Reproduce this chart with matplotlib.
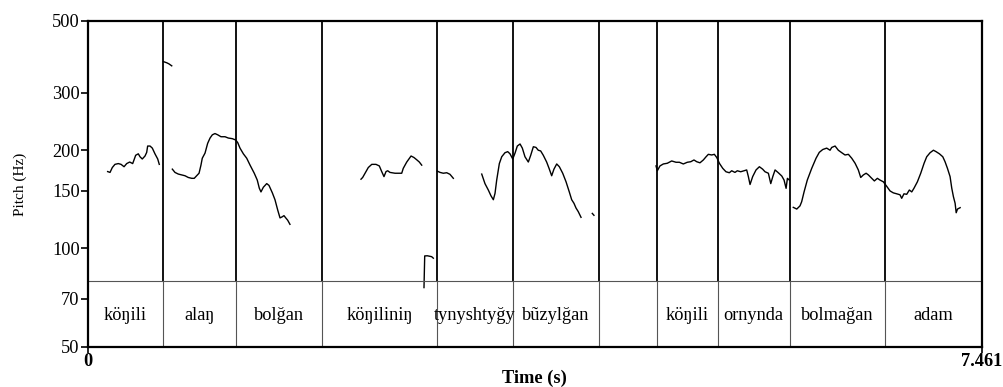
import matplotlib
matplotlib.use("Agg")
import matplotlib.pyplot as plt
from matplotlib.ticker import NullLocator
from matplotlib.transforms import blended_transform_factory

plt.rcParams['font.family'] = ['Liberation Serif', 'DejaVu Serif']

# ---------------- data ----------------
t_max = 7.461
y_ticks = [50, 70, 100, 150, 200, 300, 500]
y_tick_labels = ["50", "70", "100", "150", "200", "300", "500"]

boundaries = [0.624, 1.236, 1.954, 2.916, 3.548, 4.266, 4.748, 5.257, 5.858, 6.651]
words = ["köŋili", "alaŋ", "bolğan", "köŋiliniŋ", "tynyshtyğy", "bũzylğan", "",
         "köŋili", "ornynda", "bolmağan", "adam"]

seg1_t = [0.164, 0.184, 0.203, 0.225, 0.253, 0.276, 0.301, 0.323, 0.348, 0.373, 0.387, 0.398,
          0.420, 0.434, 0.453, 0.476, 0.490, 0.498, 0.518, 0.537, 0.559, 0.582, 0.595]
seg1_f = [172, 171, 177, 181, 182, 181, 178, 182, 184, 182, 188, 193,
          195, 191, 188, 192, 197, 206, 206, 203, 195, 188, 181]

seg2_t = [0.629, 0.657, 0.676, 0.699]
seg2_f = [374, 371, 368, 363]

seg3_t = [0.704, 0.726, 0.754, 0.782, 0.810, 0.837, 0.866, 0.887, 0.907, 0.927, 0.943, 0.954,
          0.977, 0.999, 1.019, 1.038, 1.060, 1.083, 1.110, 1.144, 1.171, 1.205, 1.233,
          1.250, 1.269, 1.297, 1.325, 1.353, 1.388, 1.413, 1.430, 1.444, 1.464, 1.492, 1.511,
          1.539, 1.561, 1.584, 1.603, 1.622, 1.636, 1.651, 1.667, 1.686]
seg3_f = [175, 171, 169, 168, 167, 165, 164, 164, 167, 170, 180, 189,
          196, 210, 218, 223, 225, 223, 220, 220, 218, 217, 215,
          211, 203, 195, 189, 180, 170, 162, 153, 149, 154, 158, 156,
          148, 141, 131, 124, 125, 126, 124, 122, 118.5]

seg4_t = [2.279, 2.293, 2.313, 2.340, 2.369, 2.404, 2.432, 2.452, 2.471, 2.488, 2.502, 2.521,
          2.563, 2.619, 2.632, 2.661, 2.697, 2.721, 2.744, 2.766, 2.786]
seg4_f = [163, 165, 170, 177, 181, 181, 179, 172, 166, 172, 173, 171,
          170, 170, 176, 184, 192, 190, 187, 184, 180]

seg5_t = [2.805, 2.811, 2.833, 2.869, 2.883]
seg5_f = [75.8, 94.8, 94.9, 94.3, 93.3]

seg6_t = [2.916, 2.939, 2.966, 2.995, 3.022, 3.050]
seg6_f = [172.6, 171, 170, 170.6, 168.7, 164]

seg7_t = [3.287, 3.314, 3.342, 3.364, 3.384, 3.398, 3.412, 3.434, 3.454, 3.481, 3.504, 3.523,
          3.546, 3.565, 3.584, 3.607, 3.626, 3.648, 3.676, 3.696, 3.718, 3.740, 3.759, 3.779,
          3.801, 3.829, 3.849, 3.871, 3.890, 3.913, 3.935, 3.963, 3.991, 4.018, 4.038, 4.057,
          4.074, 4.093, 4.116]
seg7_f = [169, 158, 151, 145, 141, 147.5, 162, 182, 191, 196.5, 198, 195,
          188, 196, 206, 209, 203, 191, 184, 193, 205, 204, 200, 199,
          193, 184, 176, 167, 175, 181.5, 178, 170, 160, 149, 141, 137.5,
          133, 129.6, 124.5]

seg8_t = [4.210, 4.224]
seg8_f = [128, 126.3]

seg9_t = [4.742, 4.753, 4.775, 4.803, 4.836, 4.873, 4.909, 4.937, 4.970, 5.003, 5.032, 5.059,
          5.082, 5.109, 5.137, 5.160, 5.179, 5.207, 5.229, 5.249, 5.271, 5.299, 5.326, 5.354,
          5.374, 5.401, 5.421, 5.449, 5.477, 5.499, 5.513, 5.527, 5.549, 5.577, 5.605, 5.632,
          5.652, 5.680, 5.700, 5.717, 5.736, 5.763, 5.792, 5.811, 5.828, 5.839, 5.855]
seg9_f = [179, 173, 179, 181.5, 182.4, 185.4, 183.7, 183.7, 181.5, 183.7, 184.4, 186.7,
          184.4, 183, 186.7, 191, 194.3, 193.4, 194.3, 190, 182.4, 176, 171.8, 170.6,
          173, 171, 173, 171.8, 173, 174, 166, 157, 166, 174, 178, 175,
          171.8, 170, 158, 166, 174, 170.6, 166.7, 162, 152.8, 164, 162]

seg10_t = [5.888, 5.917, 5.944, 5.958, 5.978, 6.005, 6.042, 6.078, 6.105, 6.134, 6.167, 6.195,
           6.209, 6.237, 6.264, 6.293, 6.320, 6.348, 6.376, 6.404, 6.431, 6.451, 6.473, 6.496,
           6.515, 6.543, 6.565, 6.590, 6.612, 6.640, 6.668, 6.696, 6.723, 6.752, 6.779, 6.793,
           6.812, 6.835, 6.857, 6.877, 6.896, 6.924, 6.952, 6.980, 7.002, 7.030, 7.058, 7.080,
           7.108, 7.136, 7.155, 7.175, 7.197, 7.211, 7.225, 7.239, 7.248, 7.259, 7.281]
seg10_f = [133.6, 132, 135, 139, 149, 162, 176, 189, 197, 201, 203, 200,
           204, 206, 200, 196.5, 193.4, 194.3, 189, 182.4, 174, 165, 168, 170,
           168, 164, 161, 164, 162, 160, 155, 150, 148, 147, 146, 142.4,
           147, 146.5, 151, 149, 153, 160, 170, 182.4, 191, 196.5, 200, 198,
           195, 191, 184.4, 176, 166, 153, 144, 137.5, 128.6, 132, 133.3]

segments_t = [seg1_t, seg2_t, seg3_t, seg4_t, seg5_t, seg6_t, seg7_t, seg8_t, seg9_t, seg10_t]
segments_f = [seg1_f, seg2_f, seg3_f, seg4_f, seg5_f, seg6_f, seg7_f, seg8_f, seg9_f, seg10_f]

# ---------------- figure ----------------
W, H = 1004, 387
fig = plt.figure(figsize=(W / 100, H / 100), dpi=100)
ax_left, ax_right, ax_top, ax_bot = 88, 981.7, 20.5, 346.5
ax = fig.add_axes([ax_left / W, 1 - ax_bot / H, (ax_right - ax_left) / W, (ax_bot - ax_top) / H])
ax.set_yscale('log')
ax.set_xlim(0, t_max)
ax.set_ylim(50, 500)

tier_frac = 0.2
blend = blended_transform_factory(ax.transData, ax.transAxes)

# contour
for tt, ff in zip(segments_t, segments_f):
    ax.plot(tt, ff, color='black', lw=1.0, solid_joinstyle='round')

# boundaries
for b in boundaries:
    ax.plot([b, b], [tier_frac, 1], transform=blend, color='black', lw=1.3)
    ax.plot([b, b], [0, tier_frac], transform=blend, color='#555555', lw=0.8)
ax.plot([0, 1], [tier_frac, tier_frac], transform=ax.transAxes, color='#555555', lw=0.8)

# word labels
edges = [0] + boundaries + [t_max]
for i, w in enumerate(words):
    mid = (edges[i] + edges[i + 1]) / 2
    ax.text(mid, tier_frac / 2 - 0.005, w, transform=blend, ha='center', va='center', fontsize=13.2)

# axes styling
for s in ax.spines.values():
    s.set_linewidth(1.6)
ax.set_yticks(y_ticks)
ax.set_yticklabels(y_tick_labels)
ax.yaxis.set_minor_locator(NullLocator())
ax.tick_params(axis='y', direction='out', length=5, width=1.2, labelsize=13.2, pad=1)
ax.set_xticks([0, t_max])
ax.set_xticklabels(["0", "7.461"], fontweight='bold')
ax.xaxis.set_minor_locator(NullLocator())
ax.tick_params(axis='x', direction='out', length=4, width=1.2, labelsize=13.2, pad=1)

fig.text(20 / W, 1 - 184 / H, "Pitch (Hz)", rotation=90, ha='center', va='center', fontsize=11)
fig.text((ax_left + ax_right) / 2 / W, 1 - 378 / H, "Time (s)", ha='center', va='center',
         fontsize=13.2, fontweight='bold')

fig.savefig("out.png", dpi=100)
